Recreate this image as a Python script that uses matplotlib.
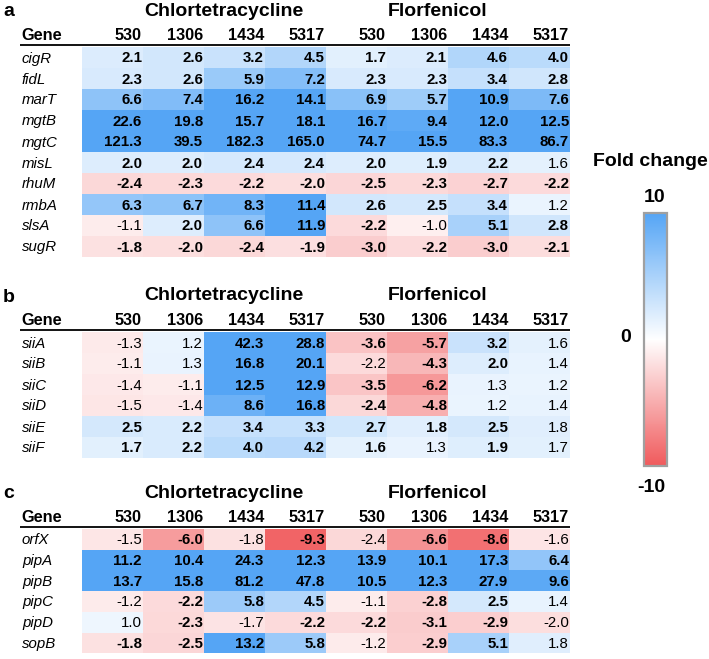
import numpy as np
import matplotlib
matplotlib.use("Agg")
import matplotlib.pyplot as plt
from matplotlib.colors import LinearSegmentedColormap, Normalize

plt.rcParams['font.family'] = ['Liberation Sans', 'DejaVu Sans']

# ---------------- data ----------------
antibiotics = ['Chlortetracycline', 'Florfenicol']
strains = ['530', '1306', '1434', '5317']
panel_labels = ['a', 'b', 'c']

genes_a = ['cigR', 'fidL', 'marT', 'mgtB', 'mgtC', 'misL', 'rhuM', 'rmbA', 'slsA', 'sugR']
fc_a = [
    [2.1, 2.6, 3.2, 4.5, 1.7, 2.1, 4.6, 4.0],
    [2.3, 2.6, 5.9, 7.2, 2.3, 2.3, 3.4, 2.8],
    [6.6, 7.4, 16.2, 14.1, 6.9, 5.7, 10.9, 7.6],
    [22.6, 19.8, 15.7, 18.1, 16.7, 9.4, 12.0, 12.5],
    [121.3, 39.5, 182.3, 165.0, 74.7, 15.5, 83.3, 86.7],
    [2.0, 2.0, 2.4, 2.4, 2.0, 1.9, 2.2, 1.6],
    [-2.4, -2.3, -2.2, -2.0, -2.5, -2.3, -2.7, -2.2],
    [6.3, 6.7, 8.3, 11.4, 2.6, 2.5, 3.4, 1.2],
    [-1.1, 2.0, 6.6, 11.9, -2.2, -1.0, 5.1, 2.8],
    [-1.8, -2.0, -2.4, -1.9, -3.0, -2.2, -3.0, -2.1],
]
bold_a = [
    [1, 1, 1, 1, 1, 1, 1, 1],
    [1, 1, 1, 1, 1, 1, 1, 1],
    [1, 1, 1, 1, 1, 1, 1, 1],
    [1, 1, 1, 1, 1, 1, 1, 1],
    [1, 1, 1, 1, 1, 1, 1, 1],
    [1, 1, 1, 1, 1, 1, 1, 0],
    [1, 1, 1, 1, 1, 1, 1, 1],
    [1, 1, 1, 1, 1, 1, 1, 0],
    [0, 1, 1, 1, 1, 0, 1, 1],
    [1, 1, 1, 1, 1, 1, 1, 1],
]

genes_b = ['siiA', 'siiB', 'siiC', 'siiD', 'siiE', 'siiF']
fc_b = [
    [-1.3, 1.2, 42.3, 28.8, -3.6, -5.7, 3.2, 1.6],
    [-1.1, 1.3, 16.8, 20.1, -2.2, -4.3, 2.0, 1.4],
    [-1.4, -1.1, 12.5, 12.9, -3.5, -6.2, 1.3, 1.2],
    [-1.5, -1.4, 8.6, 16.8, -2.4, -4.8, 1.2, 1.4],
    [2.5, 2.2, 3.4, 3.3, 2.7, 1.8, 2.5, 1.8],
    [1.7, 2.2, 4.0, 4.2, 1.6, 1.3, 1.9, 1.7],
]
bold_b = [
    [0, 0, 1, 1, 1, 1, 1, 0],
    [0, 0, 1, 1, 0, 1, 1, 0],
    [0, 0, 1, 1, 1, 1, 0, 0],
    [0, 0, 1, 1, 1, 1, 0, 0],
    [1, 1, 1, 1, 1, 1, 1, 0],
    [1, 1, 1, 1, 1, 0, 1, 0],
]

genes_c = ['orfX', 'pipA', 'pipB', 'pipC', 'pipD', 'sopB']
fc_c = [
    [-1.5, -6.0, -1.8, -9.3, -2.4, -6.6, -8.6, -1.6],
    [11.2, 10.4, 24.3, 12.3, 13.9, 10.1, 17.3, 6.4],
    [13.7, 15.8, 81.2, 47.8, 10.5, 12.3, 27.9, 9.6],
    [-1.2, -2.2, 5.8, 4.5, -1.1, -2.8, 2.5, 1.4],
    [1.0, -2.3, -1.7, -2.2, -2.2, -3.1, -2.9, -2.0],
    [-1.8, -2.5, 13.2, 5.8, -1.2, -2.9, 5.1, 1.8],
]
bold_c = [
    [0, 1, 0, 1, 0, 1, 1, 0],
    [1, 1, 1, 1, 1, 1, 1, 1],
    [1, 1, 1, 1, 1, 1, 1, 1],
    [0, 1, 1, 1, 0, 1, 1, 0],
    [0, 1, 0, 1, 1, 1, 1, 0],
    [1, 1, 1, 1, 0, 1, 1, 0],
]

cbar_ticks = [-10, 0, 10]

# ---------------- layout (pixels) ----------------
W, H = 709, 659
fig = plt.figure(figsize=(W / 100, H / 100), dpi=100)
ax = fig.add_axes([0, 0, 1, 1])
ax.set_xlim(0, W)
ax.set_ylim(H, 0)
ax.axis('off')

cmap = LinearSegmentedColormap.from_list('fc', ['#F05A5C', '#FFFFFF', '#55A5F5'])
norm = Normalize(vmin=-10, vmax=10, clip=True)

col_x0 = 82.0
col_w = 61.0
panel_tops = [47.0, 332.0, 529.0]
row_hs = [21.0, 21.0, 20.7]
panels = [(genes_a, fc_a, bold_a), (genes_b, fc_b, bold_b), (genes_c, fc_c, bold_c)]

num_fs = 10.8
hdr_fs = 11.7
title_fs = 14.0

for p, ((genes, fc, bold), top, row_h) in enumerate(zip(panels, panel_tops, row_hs)):
    vals = np.array(fc, dtype=float)
    nr, nc = vals.shape
    xe = col_x0 + col_w * np.arange(nc + 1)
    ye = top + row_h * np.arange(nr + 1)
    ax.pcolormesh(xe, ye, vals, cmap=cmap, norm=norm, shading='flat',
                  edgecolors='none', antialiased=False)
    # titles
    title_y = top - 36
    ax.text(3, title_y + 1, panel_labels[p], fontsize=title_fs, fontweight='bold',
            ha='left', va='center')
    ax.text(224, title_y, antibiotics[0], fontsize=title_fs, fontweight='bold',
            ha='center', va='center')
    ax.text(438, title_y, antibiotics[1], fontsize=title_fs, fontweight='bold',
            ha='center', va='center')
    # header
    hy = top - 11.5
    ax.text(21, hy, 'Gene', fontsize=hdr_fs, fontweight='bold', ha='left', va='center')
    for j in range(nc):
        ax.text(xe[j + 1] - 1, hy, strains[j % 4], fontsize=hdr_fs, fontweight='bold',
                ha='right', va='center')
    ax.plot([20, xe[-1]], [top - 2.5, top - 2.5], color='black', lw=1.3,
            solid_capstyle='butt')
    # rows
    for i, g in enumerate(genes):
        cy = (ye[i] + ye[i + 1]) / 2 + 1
        ax.text(22, cy, g, fontsize=num_fs, fontstyle='italic', ha='left', va='center')
        for j in range(nc):
            ax.text(xe[j + 1] - 1, cy, f'{vals[i, j]:.1f}', fontsize=num_fs,
                    fontweight='bold' if bold[i][j] else 'normal',
                    ha='right', va='center')

# ---------------- colour bar ----------------
cb_l, cb_t, cb_r, cb_b = 644, 213, 667, 466
cax = fig.add_axes([cb_l / W, 1 - cb_b / H, (cb_r - cb_l) / W, (cb_b - cb_t) / H])
sm = matplotlib.cm.ScalarMappable(norm=norm, cmap=cmap)
cb = fig.colorbar(sm, cax=cax, orientation='vertical')
cb.set_ticks([])
cb.outline.set_edgecolor('#A0A0A0')
cb.outline.set_linewidth(1.6)

ax.text(650, 162, 'Fold change', fontsize=14, fontweight='bold', ha='center', va='center')
ax.text(655, 197, str(cbar_ticks[2]), fontsize=14, fontweight='bold', ha='center', va='center')
ax.text(626, 338, str(cbar_ticks[1]), fontsize=14, fontweight='bold', ha='center', va='center')
ax.text(651, 487, str(cbar_ticks[0]), fontsize=14, fontweight='bold', ha='center', va='center')

fig.savefig('out.png', dpi=100)
